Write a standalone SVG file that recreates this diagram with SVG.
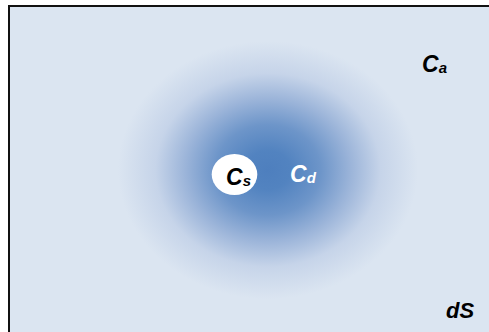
<svg xmlns="http://www.w3.org/2000/svg" width="489" height="332" viewBox="0 0 489 332">
<style>
.t{font-family:"Liberation Sans",Arial,sans-serif;font-weight:bold;font-style:italic;font-size:23px}
.sub{font-size:15px}
</style>
<defs>
<radialGradient id="g" cx="268" cy="170" r="150" gradientUnits="userSpaceOnUse" gradientTransform="translate(268 170) scale(1 0.86) translate(-268 -170)">
<stop offset="0" stop-color="#4e7fbe"/>
<stop offset="0.15" stop-color="#5283c0"/>
<stop offset="0.35" stop-color="#6d95c9"/>
<stop offset="0.55" stop-color="#9bb4d9"/>
<stop offset="0.75" stop-color="#c6d4e9"/>
<stop offset="1" stop-color="#dbe5f1"/>
</radialGradient>
</defs>
<rect x="0" y="0" width="489" height="332" fill="#ffffff"/>
<rect x="9" y="6" width="490" height="340" fill="#dbe5f1" stroke="#111111" stroke-width="2"/>
<rect x="10" y="7" width="479" height="325" fill="url(#g)"/>
<g id="cd"><text class="t" x="290" y="182" fill="#ffffff">C<tspan class="sub" dy="1">d</tspan></text></g>
<g id="cs"><ellipse cx="234.5" cy="174.5" rx="22.8" ry="20.5" fill="#ffffff"/>
<text class="t" x="226" y="185" fill="#000000">C<tspan class="sub" dy="1">s</tspan></text></g>
<g id="ca"><text class="t" x="422" y="72" fill="#000000">C<tspan class="sub" dy="1">a</tspan></text></g>
<g id="ds"><text class="t" x="446" y="318" fill="#000000" style="font-size:22px">dS</text></g>
</svg>
